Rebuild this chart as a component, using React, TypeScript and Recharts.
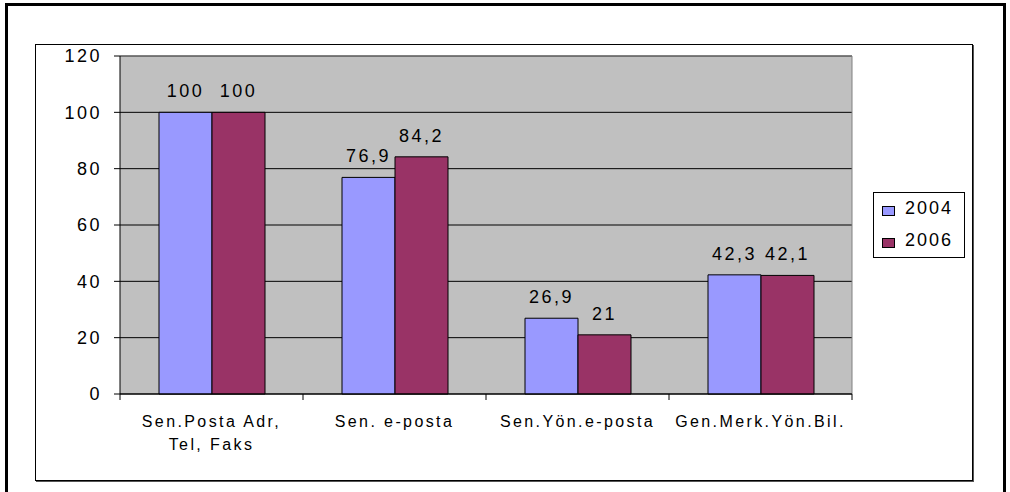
import React from 'react';
import { BarChart, Bar, XAxis, YAxis, CartesianGrid, LabelList, Legend, ReferenceLine } from 'recharts';

const categories = ['Sen.Posta Adr,\nTel, Faks', 'Sen. e-posta', 'Sen.Yön.e-posta', 'Gen.Merk.Yön.Bil.'];
const values2004 = [100, 76.9, 26.9, 42.3];
const values2006 = [100, 84.2, 21, 42.1];
const yTicks = [0, 20, 40, 60, 80, 100, 120];
const seriesNames = ['2004', '2006'];
const seriesColors = ['#9999FF', '#993366'];

const data = categories.map((c, i) => ({ name: c, s2004: values2004[i], s2006: values2006[i] }));

const FONT = '"Liberation Sans", Arial, sans-serif';

const fmt = (v: any) => String(v).replace('.', ',');

// remembers the previous tick centre so category boundaries can be found from the axis' own positions
const tickStore: { prevX: number } = { prevX: NaN };

const XTick = (props: any) => {
  const { x, y, payload, visibleTicksCount, index } = props;
  const lines = String(payload.value).split('\n');
  const marks: React.ReactNode[] = [];
  if (index === 0) {
    tickStore.prevX = x;
  } else {
    const bw = x - tickStore.prevX;
    const bx = x - bw / 2;
    marks.push(<line key="b" x1={bx} y1={y} x2={bx} y2={y + 6} stroke="#000" strokeWidth={1} />);
    if (index === 1) {
      const lx = tickStore.prevX - bw / 2;
      marks.push(<line key="l" x1={lx} y1={y} x2={lx} y2={y + 6} stroke="#000" strokeWidth={1} />);
    }
    if (index === visibleTicksCount - 1) {
      const rx = x + bw / 2;
      marks.push(<line key="r" x1={rx} y1={y} x2={rx} y2={y + 6} stroke="#000" strokeWidth={1} />);
    }
    tickStore.prevX = x;
  }
  return (
    <g>
      {marks}
      <text x={x} y={y + 33} textAnchor="middle" fontSize={16} fill="#000" fontFamily={FONT} letterSpacing={2.4}>
        {lines.map((l, i) => (
          <tspan key={i} x={x} dy={i === 0 ? 0 : 23}>{l}</tspan>
        ))}
      </text>
    </g>
  );
};

const LegendContent = () => (
  <div style={{ position: 'relative', width: 92, height: 66, border: '1px solid #000', boxSizing: 'border-box', background: '#fff', fontFamily: FONT, fontSize: 18, letterSpacing: 2 }}>
    {seriesNames.map((n, i) => (
      <React.Fragment key={n}>
        <div style={{ position: 'absolute', left: 8, top: 13 + i * 32, width: 13, height: 10, background: seriesColors[i], border: '1px solid #000', boxSizing: 'border-box' }} />
        <div style={{ position: 'absolute', left: 31, top: 4 + i * 32, lineHeight: '22px', color: '#000' }}>{n}</div>
      </React.Fragment>
    ))}
  </div>
);

export default function App() {
  return (
    <div style={{ position: 'absolute', left: 0, top: 0, width: 1010, height: 492, overflow: 'hidden', background: '#fff' }}>
      <div style={{ position: 'absolute', left: 5, top: 3, width: 1001, height: 600, border: '3px solid #000', boxSizing: 'border-box' }} />
      <div style={{ position: 'absolute', left: 35, top: 44, width: 938, height: 437, border: '1px solid #000', boxShadow: '1px 1px 0 #555', boxSizing: 'border-box' }} />
      <div style={{ position: 'absolute', left: 0, top: 0 }}>
        <BarChart
          width={1010}
          height={492}
          data={data}
          margin={{ top: 56, right: 66, left: 60, bottom: 38 }}
          barGap={0}
          barCategoryGap={39}
          style={{ fontFamily: FONT }}
        >
          <CartesianGrid fill="#C0C0C0" fillOpacity={1} stroke="#000" vertical={false} />
          <CartesianGrid
            horizontal={false}
            stroke="#808080"
            verticalCoordinatesGenerator={(p: any) => [p.offset.left + p.offset.width]}
          />
          <XAxis
            dataKey="name"
            interval={0}
            tickLine={false}
            tickSize={0}
            tickMargin={0}
            height={60}
            axisLine={{ stroke: '#000' }}
            tick={<XTick />}
          />
          <YAxis
            domain={[0, 120]}
            ticks={yTicks}
            width={60}
            tickSize={6}
            tickMargin={12}
            axisLine={{ stroke: '#000' }}
            tickLine={{ stroke: '#000' }}
            tick={{ fontSize: 18, fill: '#000', fontFamily: FONT, letterSpacing: 2.5 } as any}
          />
          <ReferenceLine y={120} stroke="#808080" />
          <Legend
            layout="horizontal"
            verticalAlign="middle"
            align="right"
            content={<LegendContent />}
            wrapperStyle={{ position: 'absolute', left: 873, top: 192, width: 92, height: 66 }}
          />
          <Bar dataKey="s2004" name={seriesNames[0]} fill={seriesColors[0]} stroke="#000" strokeWidth={1} isAnimationActive={false}>
            <LabelList dataKey="s2004" position="top" offset={15} formatter={fmt} style={{ fontSize: 18, fill: '#000', fontFamily: FONT, letterSpacing: 2.5 }} />
          </Bar>
          <Bar dataKey="s2006" name={seriesNames[1]} fill={seriesColors[1]} stroke="#000" strokeWidth={1} isAnimationActive={false}>
            <LabelList dataKey="s2006" position="top" offset={15} formatter={fmt} style={{ fontSize: 18, fill: '#000', fontFamily: FONT, letterSpacing: 2.5 }} />
          </Bar>
        </BarChart>
      </div>
    </div>
  );
}
